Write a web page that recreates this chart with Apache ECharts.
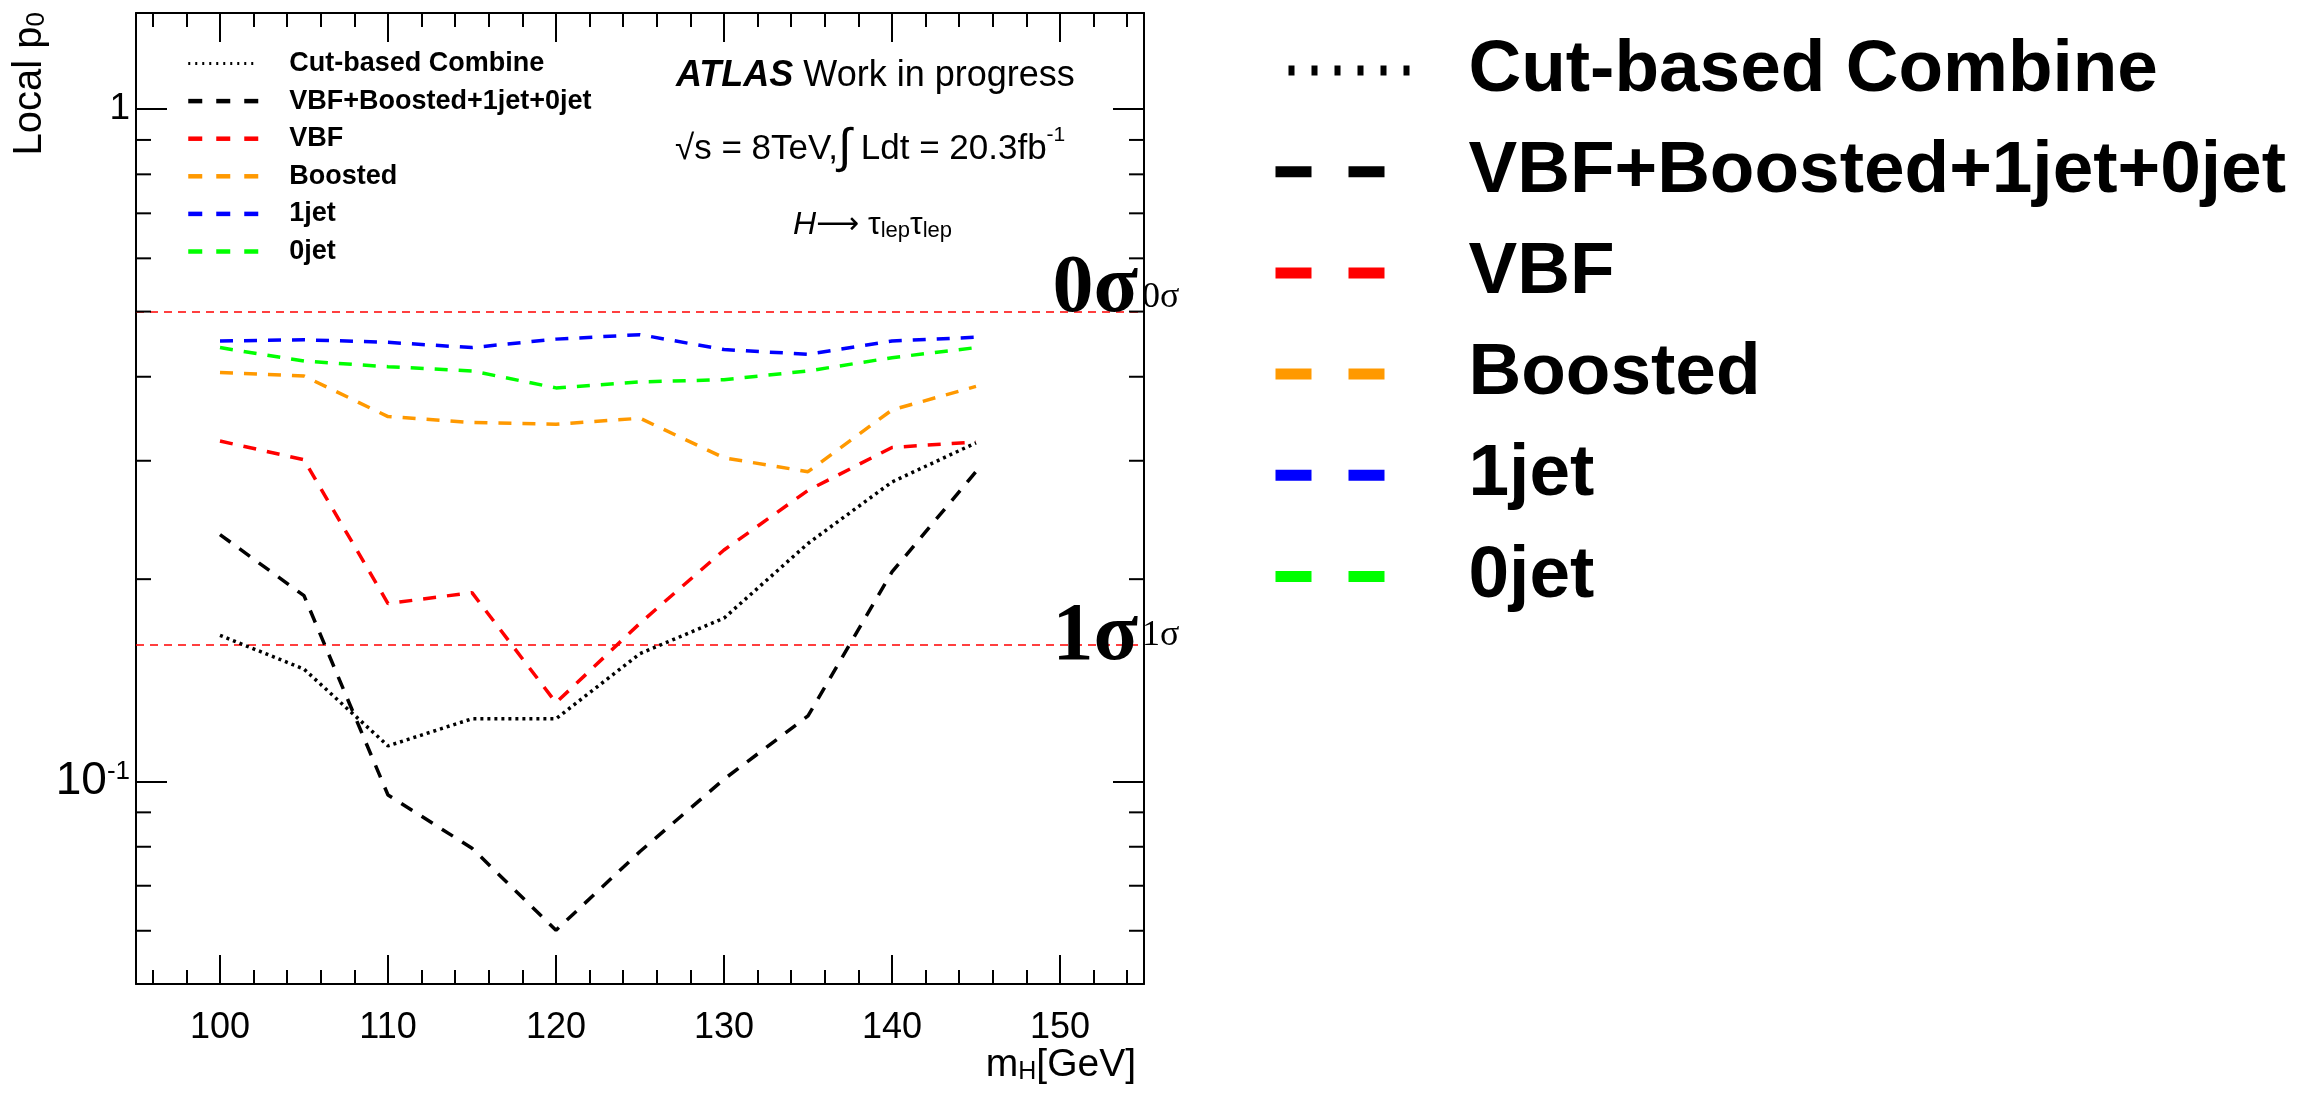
<!DOCTYPE html>
<html><head><meta charset="utf-8">
<script src="https://cdn.jsdelivr.net/npm/echarts@6/dist/echarts.min.js"></script>
<style>html,body{margin:0;padding:0;background:#fff}#c{width:2318px;height:1094px}</style>
</head><body><div id="c"></div>
<script>
// ---------------- data ----------------
const massPoints = [100, 105, 110, 115, 120, 125, 130, 135, 140, 145];
const cutBasedCombine = [0.165, 0.147, 0.113, 0.124, 0.124, 0.155, 0.175, 0.226, 0.279, 0.319];
const combinedAll = [0.233, 0.189, 0.0955, 0.0796, 0.0601, 0.0787, 0.1008, 0.1252, 0.205, 0.289];
const vbf = [0.321, 0.301, 0.184, 0.191, 0.131, 0.172, 0.221, 0.271, 0.314, 0.320];
const boosted = [0.406, 0.401, 0.349, 0.342, 0.340, 0.347, 0.303, 0.289, 0.357, 0.387];
const oneJet = [0.452, 0.454, 0.450, 0.442, 0.455, 0.462, 0.439, 0.432, 0.452, 0.458];
const zeroJet = [0.442, 0.422, 0.414, 0.408, 0.385, 0.393, 0.396, 0.408, 0.427, 0.442];
const seriesNames = ['Cut-based Combine', 'VBF+Boosted+1jet+0jet', 'VBF', 'Boosted', '1jet', '0jet'];
const seriesColors = ['#000000', '#000000', '#ff0000', '#ff9900', '#0000ff', '#00ff00'];
const xRange = [95, 155];
const yRange = [0.05, 1.39];
const yMajorTicks = [0.1, 1];
const yMajorLabels = ['{ten|10}{sup|-1}', '1'];
const yMinorTicks = [0.06, 0.07, 0.08, 0.09, 0.2, 0.3, 0.4, 0.5, 0.6, 0.7, 0.8, 0.9];
const sigmaValues = [0.5, 0.1587];
const sigmaNames = ['0σ', '1σ'];
const xTitle = 'm{sub|H}[GeV]';
const yTitle = 'Local p{sub|0}';

// ---------------- chart ----------------
const FONT = "'Liberation Sans', Arial, Helvetica, sans-serif";
const SERIF = "'Liberation Serif', 'Times New Roman', serif";
const allValues = [cutBasedCombine, combinedAll, vbf, boosted, oneJet, zeroJet];

function lineSeries(i) {
  const dotted = i === 0;
  const s = {
    type: 'line', name: seriesNames[i],
    data: massPoints.map((m, k) => [m, allValues[i][k]]),
    symbol: 'none', showSymbol: false, animation: false, silent: true,
    lineStyle: { color: seriesColors[i], width: 3.5, type: dotted ? [3, 4] : [13, 11] },
    itemStyle: { color: seriesColors[i] },
    z: 10 - i
  };
  if (i === 0) {
    s.markLine = {
      symbol: 'none', silent: true, animation: false,
      lineStyle: { color: '#ff0000', width: 1.5, type: [8, 6] },
      label: { show: false },
      data: sigmaValues.map(v => ({ yAxis: v }))
    };
  }
  return s;
}

const series = seriesNames.map((_, i) => lineSeries(i));
series.push({
  type: 'custom', name: 'yMinorTicks', silent: true, animation: false,
  xAxisIndex: 0, yAxisIndex: 0, z: 20,
  encode: { x: 0, y: 1 },
  data: yMinorTicks.map(v => [xRange[0], v]),
  renderItem: function (params, api) {
    const v = api.value(1);
    const pl = api.coord([xRange[0], v]);
    const pr = api.coord([xRange[1], v]);
    const st = { stroke: '#000', lineWidth: 2 };
    return { type: 'group', children: [
      { type: 'line', shape: { x1: pl[0], y1: pl[1], x2: pl[0] + 15, y2: pl[1] }, style: st },
      { type: 'line', shape: { x1: pr[0], y1: pr[1], x2: pr[0] - 15, y2: pr[1] }, style: st }
    ]};
  }
});

function xAxisDef(pos, showLabel) {
  return {
    type: 'value', min: xRange[0], max: xRange[1], splitNumber: 6, position: pos,
    axisLine: { show: true, onZero: false, lineStyle: { color: '#000', width: 2 } },
    axisTick: { show: true, inside: true, length: 29, lineStyle: { color: '#000', width: 2 } },
    minorTick: { show: true, splitNumber: 5, length: 14, lineStyle: { color: '#000', width: 2 } },
    splitLine: { show: false }, minorSplitLine: { show: false },
    axisLabel: { show: showLabel, showMinLabel: false, showMaxLabel: false, margin: 26,
      fontSize: 36, color: '#000', fontFamily: FONT }
  };
}
function yAxisDef(pos, showLabel) {
  return {
    type: 'log', logBase: 10, min: yRange[0], max: yRange[1], position: pos,
    axisLine: { show: true, onZero: false, lineStyle: { color: '#000', width: 2 } },
    axisTick: { show: true, inside: true, length: 31, lineStyle: { color: '#000', width: 2 } },
    splitLine: { show: false },
    axisLabel: {
      show: showLabel, showMinLabel: false, showMaxLabel: false, margin: 6,
      fontSize: 37, color: '#000', fontFamily: FONT,
      formatter: function (v) {
        for (let k = 0; k < yMajorTicks.length; k++) {
          if (Math.abs(v - yMajorTicks[k]) < 1e-6 * yMajorTicks[k]) return yMajorLabels[k];
        }
        return '';
      },
      rich: {
        ten: { fontSize: 46, fontFamily: FONT, color: '#000' },
        sup: { fontSize: 26, fontFamily: FONT, color: '#000', verticalAlign: 'top' }
      }
    }
  };
}

const hiddenSymbol = { color: 'rgba(0,0,0,0)', borderWidth: 0, opacity: 0 };

const option = {
  animation: false,
  backgroundColor: '#ffffff',
  grid: { left: 136, top: 13, width: 1008, height: 971, containLabel: false, show: false },
  xAxis: [xAxisDef('bottom', true), xAxisDef('top', false)],
  yAxis: [yAxisDef('left', true), yAxisDef('right', false)],
  legend: [
    {
      orient: 'vertical', left: 186, top: 50, padding: 0, itemGap: 10.6,
      itemWidth: 70, itemHeight: 20, selectedMode: false,
      itemStyle: hiddenSymbol,
      textStyle: { fontSize: 27, fontWeight: 'bold', fontFamily: FONT, color: '#000', padding: [0, 0, 0, 26] },
      lineStyle: { width: 4.5, type: [14, 14] },
      data: seriesNames.map((n, i) => i === 0 ? { name: n, lineStyle: { width: 3, type: [2, 5] } } : { name: n })
    },
    {
      orient: 'vertical', left: 1270, top: 34, padding: 0, itemGap: 28.2,
      itemWidth: 135, itemHeight: 60, selectedMode: false,
      itemStyle: hiddenSymbol,
      textStyle: { fontSize: 73, fontWeight: 'bold', fontFamily: FONT, color: '#000', padding: [0, 0, 0, 53] },
      lineStyle: { width: 11, type: [36, 37, 36, 300] },
      data: seriesNames.map((n, i) => i === 0
        ? { name: n, lineStyle: { width: 10, type: [0, 13, 6, 17, 6, 17, 6, 17, 6, 17, 6, 17, 6, 300] } }
        : { name: n })
    }
  ],
  series: series
};

const chart = echarts.init(document.getElementById('c'), null, { renderer: 'canvas' });
chart.setOption(option);

const staticGraphics = [
  { type: 'text', x: 30, y: 12, rotation: Math.PI / 2, z: 50,
    style: { text: yTitle, fontSize: 40, fontFamily: FONT, fill: '#000', align: 'right', verticalAlign: 'middle',
      rich: { sub: { fontSize: 26, fontFamily: FONT, fill: '#000', verticalAlign: 'bottom' } } } },
  { type: 'text', x: 1136, y: 1065, z: 50,
    style: { text: xTitle, fontSize: 39, fontFamily: FONT, fill: '#000', align: 'right', verticalAlign: 'middle',
      rich: { sub: { fontSize: 25, fontFamily: FONT, fill: '#000', verticalAlign: 'bottom', padding: [12, 0, 0, 0] } } } },
  { type: 'text', x: 676, y: 76, z: 50,
    style: { text: '{b|ATLAS} Work in progress', fontSize: 36, fontFamily: FONT, fill: '#000', align: 'left', verticalAlign: 'middle',
      rich: { b: { fontSize: 36, fontFamily: FONT, fontWeight: 'bold', fontStyle: 'italic', fill: '#000' } } } },
  { type: 'text', x: 675, y: 149, z: 50,
    style: { text: '√s = 8TeV,{int|∫} Ldt = 20.3fb{sup|-1}', fontSize: 35, fontFamily: FONT, fill: '#000', align: 'left', verticalAlign: 'middle',
      rich: { int: { fontSize: 48, fontFamily: FONT, fill: '#000' },
              sup: { fontSize: 21, fontFamily: FONT, fill: '#000', verticalAlign: 'top' } } } },
  { type: 'text', x: 793, y: 225, z: 50,
    style: { text: '{it|H}{arr|⟶} τ{sub|lep}τ{sub|lep}', fontSize: 32, fontFamily: FONT, fill: '#000', align: 'left', verticalAlign: 'middle',
      rich: { it: { fontSize: 32, fontFamily: FONT, fontStyle: 'italic', fill: '#000' },
              arr: { fontSize: 30, fontFamily: "'DejaVu Sans', sans-serif", fill: '#000' },
              sub: { fontSize: 22, fontFamily: FONT, fill: '#000', verticalAlign: 'bottom', padding: [12, 0, 0, 0] } } } }
];

const bigOffsets = [-22, -9];
const smallOffsets = [-14, -11];
const sigmaGraphics = [];
sigmaValues.forEach((v, i) => {
  const p = chart.convertToPixel({ xAxisIndex: 0, yAxisIndex: 0 }, [xRange[1], v]);
  sigmaGraphics.push({ type: 'text', x: p[0] - 6, y: p[1] + bigOffsets[i], z: 60,
    style: { text: sigmaNames[i], fontFamily: SERIF, fontWeight: 'bold', fontSize: 82, fill: '#000', align: 'right', verticalAlign: 'middle' } });
  sigmaGraphics.push({ type: 'text', x: p[0] - 2, y: p[1] + smallOffsets[i], z: 60,
    style: { text: sigmaNames[i], fontFamily: SERIF, fontSize: 36, fill: '#000', align: 'left', verticalAlign: 'middle' } });
});

chart.setOption({ graphic: { elements: staticGraphics.concat(sigmaGraphics) } });
</script>
</body></html>
